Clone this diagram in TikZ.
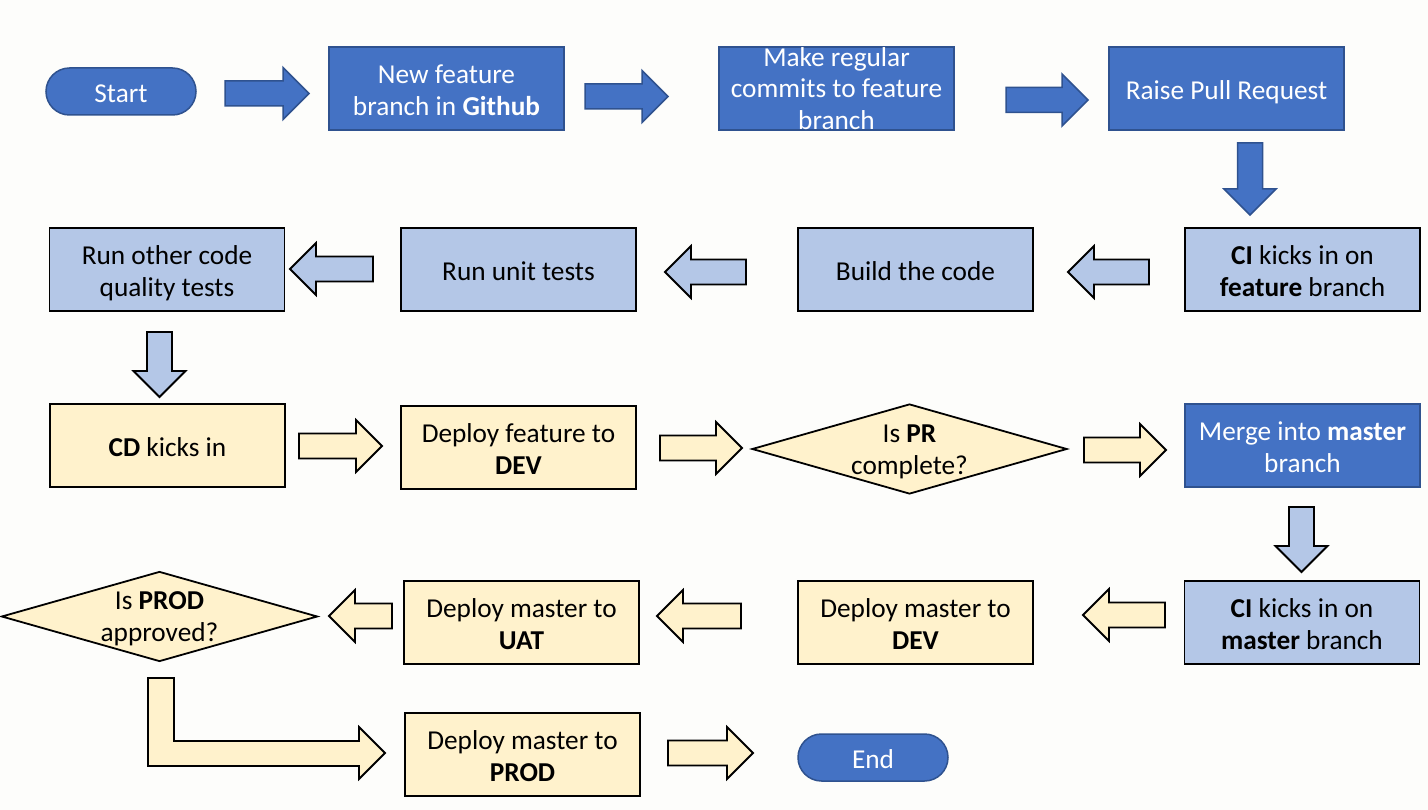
\documentclass[tikz,border=0pt]{standalone}
\usepackage{fontspec}
\setmainfont{Carlito}
\usetikzlibrary{shapes.geometric}
\definecolor{dblue}{HTML}{4472C4}
\definecolor{dbluebd}{HTML}{2F528F}
\definecolor{lblue}{HTML}{B4C7E7}
\definecolor{lyellow}{HTML}{FFF2CC}
\definecolor{bgc}{RGB}{253,253,251}
\newcommand{\linestrut}{\rule[-7.3pt]{0pt}{37.3pt}}
\newcommand{\blockarrow}[5]{% x, y, angle, length, style
  \begin{scope}[shift={(#1,#2)},rotate=#3]
    \draw[#5] (0,-12.5) -- ({#4-26},-12.5) -- ({#4-26},-26) -- (#4,0) -- ({#4-26},26) -- ({#4-26},12.5) -- (0,12.5) -- cycle;
  \end{scope}}
\tikzset{
  darkbox/.style={rectangle, draw=dbluebd, line width=1.5pt, fill=dblue, text=white, minimum width=235, minimum height=83, inner sep=0pt},
  bluebox/.style={rectangle, draw=black, line width=1.8pt, fill=lblue, text=black, minimum width=235, minimum height=83, inner sep=0pt},
  yelbox/.style={rectangle, draw=black, line width=1.8pt, fill=lyellow, text=black, minimum width=235, minimum height=83, inner sep=0pt},
  pill/.style={rectangle, rounded corners=23.5, draw=dbluebd, line width=1.5pt, fill=dblue, text=white, minimum width=150, minimum height=47, inner sep=0pt},
  decis/.style={diamond, draw=black, line width=1.8pt, fill=lyellow, minimum width=315, minimum height=90, inner sep=0pt},
  twok/.style 2 args={label={[inner sep=0pt, yshift=16pt]center:#1}, label={[inner sep=0pt, yshift=-16pt]center:#2}},
  twod/.style 2 args={label={[inner sep=0pt, yshift=18pt]center:#1}, label={[inner sep=0pt, yshift=-14pt]center:#2}},
  twow/.style 2 args={label={[text=white, inner sep=0pt, yshift=16pt]center:#1}, label={[text=white, inner sep=0pt, yshift=-16pt]center:#2}},
  darr/.style={draw=dbluebd, line width=1.5pt, fill=dblue},
  barr/.style={draw=black, line width=1.8pt, fill=lblue, line join=miter},
  yarr/.style={draw=black, line width=1.8pt, fill=lyellow, line join=miter},
}
\begin{document}
\begin{tikzpicture}[x=1pt, y=-1pt, font=\fontsize{27.3}{32}\selectfont,
  execute at begin node=\linestrut]
\useasboundingbox (0,0) rectangle (1428,810);
\fill[bgc] (0,0) rectangle (1428,810);

% Row 1
\node[pill] (start) at (121,91.5) {Start};
\node[darkbox, twow={New feature}{branch in \textbf{Github}}] (newfeat) at (446.5,88.5) {};
\node[darkbox,
  label={[text=white, inner sep=0pt, yshift=33pt]center:Make regular},
  label={[text=white, inner sep=0pt, yshift=2pt]center:commits to feature},
  label={[text=white, inner sep=0pt, yshift=-30pt]center:branch}] (commits) at (836.5,88.5) {};
\node[darkbox] (raise) at (1226.5,88.5) {Raise Pull Request};

\blockarrow{225}{93.5}{0}{84}{darr}
\blockarrow{585}{96.5}{0}{83}{darr}
\blockarrow{1006}{100}{0}{82}{darr}
\blockarrow{1250}{143}{-90}{72}{darr}

% Row 2
\node[bluebox, twok={\textbf{CI} kicks in on}{\textbf{feature} branch}] (cifeat) at (1302.5,269.5) {};
\node[bluebox] (build) at (915.5,269.5) {Build the code};
\node[bluebox] (unit) at (518.5,269.5) {Run unit tests};
\node[bluebox, twok={Run other code}{quality tests}] (other) at (167,269.5) {};

\blockarrow{1149}{272}{180}{81}{barr}
\blockarrow{746}{272}{180}{81}{barr}
\blockarrow{373}{269}{180}{83}{barr}
\blockarrow{159.5}{332}{-90}{65}{barr}

% Row 3
\node[yelbox] (cd) at (167.5,445.5) {\textbf{CD} kicks in};
\node[yelbox, twok={Deploy feature to}{\textbf{DEV}}] (depfeat) at (518.5,447.5) {};
\node[decis, twod={Is \textbf{PR}}{complete?}] (pr) at (909.5,449) {};
\node[darkbox, twow={Merge into \textbf{master}}{branch}] (merge) at (1302.5,445.5) {};

\blockarrow{299}{446}{0}{83}{yarr}
\blockarrow{660}{448}{0}{82}{yarr}
\blockarrow{1084}{450}{0}{82}{yarr}
\blockarrow{1301.5}{507}{-90}{65}{barr}

% Row 4
\node[bluebox, twok={\textbf{CI} kicks in on}{\textbf{master} branch}] (cimaster) at (1302,622.5) {};
\node[yelbox, twok={Deploy master to}{\textbf{DEV}}] (depdev) at (915.5,622.5) {};
\node[yelbox, twok={Deploy master to}{\textbf{UAT}}] (depuat) at (521.5,622.5) {};
\node[decis, minimum width=316, twod={Is \textbf{PROD}}{approved?}] (prod) at (159.5,616.5) {};

\blockarrow{1165}{615}{180}{82}{yarr}
\blockarrow{741}{616}{180}{84}{yarr}
\blockarrow{392}{616}{180}{63}{yarr}

% Row 5
\draw[yarr] (148,678) -- (174,678) -- (174,741) -- (359,741) -- (359,727) -- (385,753) -- (359,779) -- (359,766) -- (148,766) -- cycle;
\node[yelbox, twok={Deploy master to}{\textbf{PROD}}] (depprod) at (522.5,754.5) {};
\blockarrow{668}{753}{0}{85}{yarr}
\node[pill] (end) at (873,757.5) {End};
\end{tikzpicture}
\end{document}
